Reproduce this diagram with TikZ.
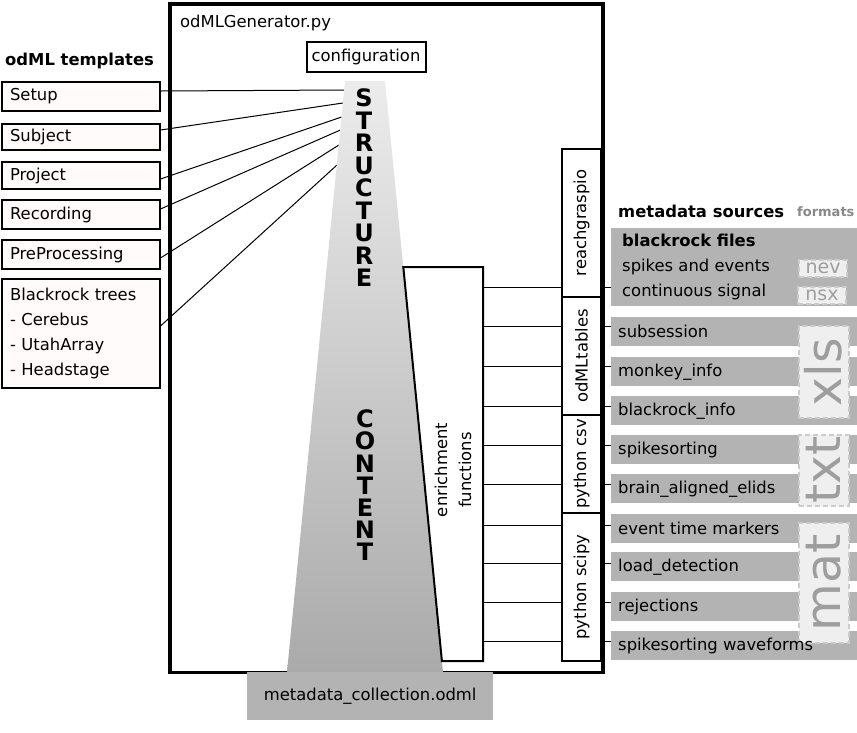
\documentclass[tikz,border=0pt]{standalone}
\usepackage{fontspec}
\setmainfont{DejaVu Sans}
\usetikzlibrary{calc}
\definecolor{srcgray}{RGB}{179,179,179}
\definecolor{tmplfill}{RGB}{255,251,251}
\definecolor{fmtfill}{RGB}{239,239,239}
\definecolor{fmtdraw}{RGB}{204,204,204}
\definecolor{fmttext}{RGB}{158,158,158}
\definecolor{trtop}{RGB}{236,236,236}
\definecolor{trbot}{RGB}{170,170,170}
\definecolor{fmtlabel}{RGB}{136,136,136}
\tikzset{
 plain/.style={inner sep=0pt, font=\fontsize{16.4}{20}\selectfont},
 tmpl/.style={draw, line width=2pt, fill=tmplfill, anchor=north west, minimum width=157.5pt,
   text width=141.5pt, inner xsep=8pt, inner ysep=0pt, align=left, font=\fontsize{16.4}{25}\selectfont},
 libbox/.style={draw, line width=2pt, fill=white, minimum width=39pt, inner sep=0pt},
 libtext/.style={rotate=90, inner sep=0pt, font=\fontsize{16.4}{20}\selectfont},
 src/.style={fill=srcgray, anchor=north west, minimum width=246pt, minimum height=29pt, inner sep=0pt},
 srctext/.style={anchor=west, inner sep=0pt, xshift=7pt, font=\fontsize{16.4}{20}\selectfont},
 fmtbox/.style={fill=fmtfill, draw=fmtdraw, line width=2pt, dash pattern=on 5pt off 3pt, inner sep=0pt, anchor=north west},
 fmtsmall/.style={text=fmttext, inner sep=0pt, font=\fontsize{19}{20}\selectfont},
 fmtbig/.style={text=fmttext, inner sep=0pt, rotate=90, font=\fontsize{49}{49}\selectfont},
 bigletter/.style={font=\fontsize{24}{24}\selectfont\bfseries, inner sep=0pt},
 conn/.style={line width=1pt}
}
\begin{document}
\begin{tikzpicture}[x=1pt,y=-1pt]
\useasboundingbox (0,0) rectangle (857,732);

% generator frame
\node[draw, line width=3.5pt, anchor=north west, minimum width=433pt, minimum height=668.5pt, inner sep=0pt] (gen) at (168,2) {};
\node[plain, anchor=west] (gentitle) at (180,23) {odMLGenerator.py};
\node[draw, line width=2pt, minimum width=119pt, minimum height=30pt, inner sep=0pt, anchor=north west,
  font=\fontsize{16.4}{20}\selectfont] (cfg) at (305.5,41) {configuration};

% templates
\node[plain, anchor=west, font=\fontsize{16.4}{20}\selectfont\bfseries] (tmplhead) at (5,61) {odML templates};
\node[tmpl, minimum height=29pt] (setup) at (1,81) {Setup};
\node[tmpl, minimum height=26pt] (subject) at (1,123) {Subject};
\node[tmpl, minimum height=27pt] (project) at (1,161) {Project};
\node[tmpl, minimum height=29pt] (recording) at (1,199) {Recording};
\node[tmpl, minimum height=29pt] (prepro) at (1,239) {PreProcessing};
\node[tmpl, minimum height=109pt] (btrees) at (1,278) {Blackrock trees\\- Cerebus\\- UtahArray\\- Headstage};

% trapezoid edge points
\coordinate (s1) at (344.2,90);
\coordinate (s2) at (343,103);
\coordinate (s3) at (341.6,117);
\coordinate (s4) at (340.4,130);
\coordinate (s5) at (338.9,145);
\coordinate (s6) at (337,165);
\draw[conn] ([yshift=5.5pt]setup.east) -- (s1);
\draw[conn] ([yshift=7pt]subject.east) -- (s2);
\draw[conn] ([yshift=-3.5pt]project.east) -- (s3);
\draw[conn] ([yshift=5.5pt]recording.east) -- (s4);
\draw[conn] ([yshift=-3.5pt]prepro.east) -- (s5);
\draw[conn] ([yshift=7.5pt]btrees.east) -- (s6);

% structure/content trapezoid
\shade[top color=trtop, bottom color=trbot] (345,81) -- (385,81) -- (443,672) -- (287,672) -- cycle;
\foreach \l [count=\i from 0] in {S,T,R,U,C,T,U,R,E}
  \node[bigletter] (st\i) at (364,{98+22.5*\i}) {\l};
\foreach \l [count=\i from 0] in {C,O,N,T,E,N,T}
  \node[bigletter] (ct\i) at (365,{419+22.2*\i}) {\l};

% output
\node[fill=srcgray, anchor=north west, minimum width=246pt, minimum height=48pt, inner sep=0pt,
  font=\fontsize{16.4}{20}\selectfont] (out) at (247,672) {metadata\_collection.odml};

% enrichment functions
\draw[line width=2pt, fill=white] (403.3,267) -- (483,267) -- (483,661) -- (441.9,661) -- cycle;
\node[rotate=90, align=center, inner sep=0pt, font=\fontsize{16.4}{24}\selectfont] (enr) at (453,470) {enrichment\\functions};

% library boxes
\node[libbox, minimum height=148pt] (rg) at (581.5,223) {};
\node[libtext] at (rg.center) {reachgraspio};
\node[libbox, minimum height=118pt] (ot) at (581.5,356) {};
\node[libtext] at (ot.center) {odMLtables};
\node[libbox, minimum height=98pt] (pc) at (581.5,464) {};
\node[libtext] at (pc.center) {python csv};
\node[libbox, minimum height=148pt] (ps) at (581.5,587) {};
\node[libtext] at (ps.center) {python scipy};

% sources
\node[plain, anchor=west, font=\fontsize{16.4}{20}\selectfont\bfseries] (srchead) at (618,211) {metadata sources};
\node[plain, anchor=west, text=fmtlabel, font=\fontsize{13}{15}\selectfont\bfseries] (fmthead) at (797,212) {formats};
\node[src, minimum height=78pt] (brf) at (611,228) {};
\node[src] (ss) at (611,317) {};
\node[src] (mi) at (611,357) {};
\node[src] (bi) at (611,396) {};
\node[src] (sp) at (611,435) {};
\node[src] (ba) at (611,474) {};
\node[src] (et) at (611,514) {};
\node[src] (ld) at (611,552) {};
\node[src] (rj) at (611,592) {};
\node[src] (sw) at (611,631) {};

% connectors
\foreach \y/\lib/\s [count=\i] in {287/rg/brf,326/ot/ss,366/ot/mi,406/ot/bi,445/pc/sp,484/pc/ba,525/ps/et,563/ps/ld,602/ps/rj,641/ps/sw}{
  \coordinate (e\i) at (483,\y);
  \draw[conn] (e\i) -- (e\i -| \lib.west);
  \draw[conn] (e\i -| \lib.east) -- (e\i -| \s.west);
}

% format boxes
\node[fmtbox, minimum width=48pt, minimum height=17pt] (nevb) at (798,259) {};
\node[fmtsmall] at (nevb.center) {nev};
\node[fmtbox, minimum width=48pt, minimum height=17pt] (nsxb) at (797,286) {};
\node[fmtsmall] at (nsxb.center) {nsx};
\node[fmtbox, minimum width=50pt, minimum height=92pt] (xlsb) at (797.5,325) {};
\node[fmtbig] at (xlsb.center) {xls};
\node[fmtbox, minimum width=50pt, minimum height=71pt] (txtb) at (797.5,433.5) {};
\node[fmtbig] at (txtb.center) {txt};
\node[fmtbox, minimum width=50pt, minimum height=120pt] (matb) at (797.5,522) {};
\node[fmtbig] at (matb.center) {mat};

% source texts
\node[anchor=west, inner sep=0pt, align=left, font=\fontsize{16.4}{25}\selectfont] at ([xshift=11pt]brf.west)
  {{\bfseries blackrock files}\\spikes and events\\continuous signal};
\node[srctext] at (ss.west) {subsession};
\node[srctext] at (mi.west) {monkey\_info};
\node[srctext] at (bi.west) {blackrock\_info};
\node[srctext] at (sp.west) {spikesorting};
\node[srctext] at (ba.west) {brain\_aligned\_elids};
\node[srctext] at (et.west) {event time markers};
\node[srctext] at (ld.west) {load\_detection};
\node[srctext] at (rj.west) {rejections};
\node[srctext] at (sw.west) {spikesorting waveforms};
\end{tikzpicture}
\end{document}
